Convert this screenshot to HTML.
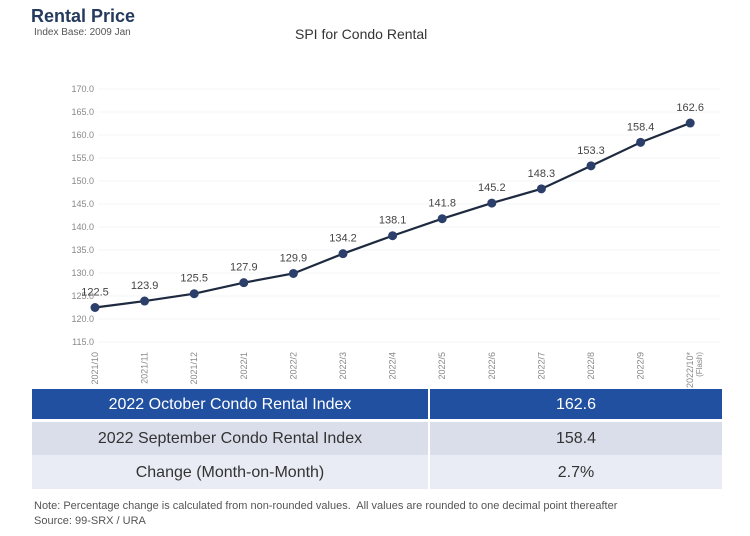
<!DOCTYPE html>
<html><head><meta charset="utf-8">
<style>
body{margin:0;width:750px;height:536px;background:#fff;font-family:"Liberation Sans",sans-serif;overflow:hidden;position:relative}
.abs{position:absolute}
</style></head><body>
<div class="abs" style="left:31px;top:6px;font-size:18px;font-weight:bold;color:#243a5e">Rental Price</div>
<div class="abs" style="left:34px;top:27px;font-size:10px;color:#555">Index Base: 2009 Jan</div>
<div class="abs" style="left:295px;top:26px;font-size:14px;color:#333">SPI for Condo Rental</div>
<svg id="chart" class="abs" style="left:0;top:0" width="750" height="390"></svg>
<div class="abs" style="left:32px;top:389px;width:690px;font-size:16px;color:#333">
 <div style="display:flex;height:30px;background:#2150a0;color:#fff;line-height:31px">
  <div style="width:396px;text-align:center">2022 October Condo Rental Index</div>
  <div style="width:2px;background:#fff"></div>
  <div style="flex:1;text-align:center">162.6</div></div>
 <div style="height:3px"></div>
 <div style="display:flex;height:33px;background:#dadeea;line-height:34px">
  <div style="width:396px;text-align:center">2022 September Condo Rental Index</div>
  <div style="width:2px;background:#fff"></div>
  <div style="flex:1;text-align:center">158.4</div></div>
 <div style="display:flex;height:34px;background:#e9ecf4;line-height:35px">
  <div style="width:396px;text-align:center">Change (Month-on-Month)</div>
  <div style="width:2px;background:#fff"></div>
  <div style="flex:1;text-align:center">2.7%</div></div>
</div>
<div class="abs" style="left:34px;top:499px;font-size:11px;color:#555;line-height:15px">Note: Percentage change is calculated from non-rounded values.&nbsp; All values are rounded to one decimal point thereafter<br>Source: 99-SRX / URA</div>
<script>
const categories=["2021/10","2021/11","2021/12","2022/1","2022/2","2022/3","2022/4","2022/5","2022/6","2022/7","2022/8","2022/9","2022/10*"];
const values=[122.5,123.9,125.5,127.9,129.9,134.2,138.1,141.8,145.2,148.3,153.3,158.4,162.6];
const yTicks=[115,120,125,130,135,140,145,150,155,160,165,170];
const ns="http://www.w3.org/2000/svg";
const svg=document.getElementById('chart');
const x0=95,dx=49.6;
function xs(i){return x0+i*dx;}
function ys(v){return 342-(v-115)*4.6;}
function mk(t,a){const e=document.createElementNS(ns,t);for(const k in a)e.setAttribute(k,a[k]);svg.appendChild(e);return e;}
yTicks.forEach(t=>{
 const g=mk('line',{x1:98,x2:720,y1:ys(t),y2:ys(t),stroke:'#f3f4f7','stroke-width':1});
 
 
 const l=mk('text',{x:94,y:ys(t)+3,'text-anchor':'end','font-size':9,fill:'#888'});
 l.textContent=t.toFixed(1);
 
 
});
let d=values.map((v,i)=>(i?'L':'M')+xs(i)+','+ys(v)).join(' ');
const p=mk('path',{d:d,fill:'none',stroke:'#1e2a40','stroke-width':2.2});


values.forEach((v,i)=>{
 const c=mk('circle',{cx:xs(i),cy:ys(v),r:4.5,fill:'#2b3f6a'});
 
 
 const t=mk('text',{x:xs(i),y:ys(v)-12,'text-anchor':'middle','font-size':11,fill:'#444'});
 t.textContent=v.toFixed(1);
 
 
});
categories.forEach((c,i)=>{
 const t=mk('text',{transform:`translate(${xs(i)+3},${352}) rotate(-90)`,'text-anchor':'end','font-size':9,fill:'#888'});
 t.textContent=c;
 
 
 if(i===categories.length-1){
  const f=mk('text',{transform:`translate(${xs(i)+12},${352}) rotate(-90)`,'text-anchor':'end','font-size':8,fill:'#888'});
  f.textContent='(Flash)';
  
  
 }
});
</script>
</body></html>
